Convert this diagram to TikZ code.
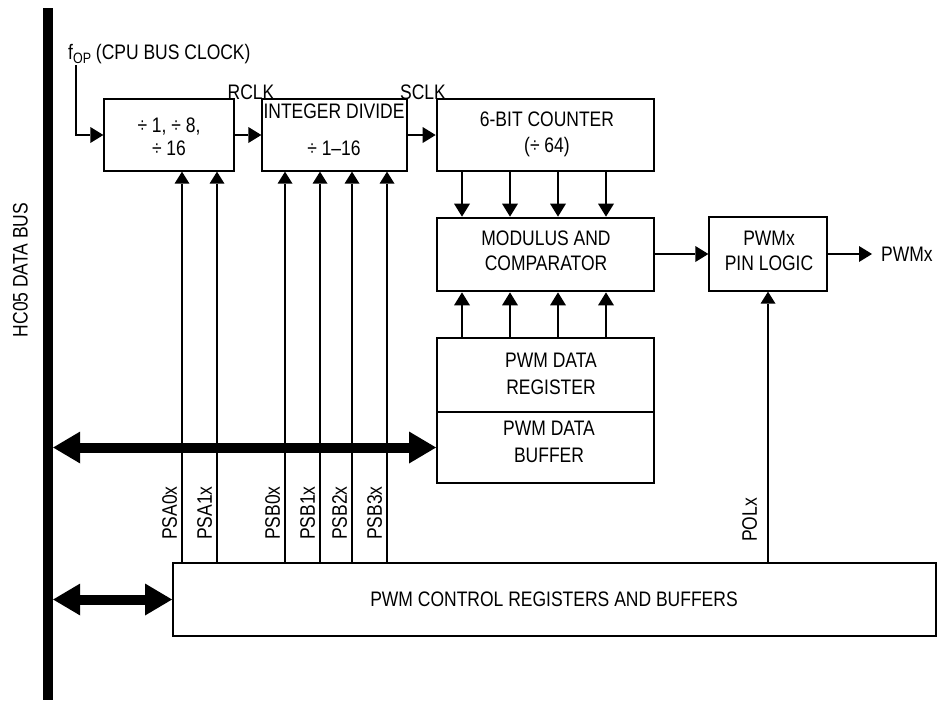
\documentclass[tikz,border=0pt]{standalone}
\usepackage{fontspec}
\setmainfont[FakeStretch=0.833]{Liberation Sans}
\usetikzlibrary{arrows.meta}
\begin{document}
\begin{tikzpicture}[x=1pt,y=-1pt,
  every node/.style={font=\fontsize{21}{25}\selectfont},
  boxthin/.style={draw, line width=1.3pt, inner sep=0pt},
  boxmed/.style={draw, line width=2pt, inner sep=0pt},
  boxthick/.style={draw, line width=2.7pt, inner sep=0pt},
  lbl/.style={inner sep=0pt, text height=15pt, text depth=0pt},
  arr/.style={line width=1.5pt, -{Triangle[length=13pt,width=16pt,line width=0pt]}},
  sig/.style={line width=1.3pt, -{Triangle[length=12pt,width=15pt,line width=0pt]}},
  bigarr/.style={line width=10pt, {Triangle[length=27pt,width=32pt,line width=0pt]}-{Triangle[length=27pt,width=32pt,line width=0pt]}}
]
\useasboundingbox (0,0) rectangle (940,702);

% data bus
\node[fill=black, inner sep=0pt, minimum width=10pt, minimum height=692pt] (bus) at (48,354) {};
\node[lbl, rotate=90] (buslbl) at (20,270) {HC05 DATA BUS};

% boxes
\node[boxthin, minimum width=130pt, minimum height=72pt] (d1) at (169,135) {};
\node[boxthin, minimum width=145pt, minimum height=72pt] (d2) at (334.5,135) {};
\node[boxthick, minimum width=217pt, minimum height=72pt] (cnt) at (545.5,135) {};
\node[boxthick, minimum width=217pt, minimum height=73pt] (mod) at (545.5,254.5) {};
\node[boxthin, minimum width=118pt, minimum height=74pt] (pin) at (768,254) {};
\node[boxthick, minimum width=217pt, minimum height=74pt] (reg) at (545.5,375) {};
\node[boxmed, minimum width=217pt, minimum height=71pt] (buf) at (545.5,447.5) {};
\node[boxmed, minimum width=763pt, minimum height=73pt] (ctl) at (554.5,599.5) {};

% box texts
\node[lbl] (t1a) at (169,125) {÷ 1, ÷ 8,};
\node[lbl] (t1b) at (169,148) {÷ 16};
\node[lbl] (t2a) at (334,111) {INTEGER DIVIDE};
\node[lbl] (t2b) at (334,148) {÷ 1–16};
\node[lbl] (t3a) at (547,119) {6-BIT COUNTER};
\node[lbl] (t3b) at (547,145) {(÷ 64)};
\node[lbl] (t4a) at (546,238) {MODULUS AND};
\node[lbl] (t4b) at (546,263) {COMPARATOR};
\node[lbl] (t5a) at (769,238) {PWMx};
\node[lbl] (t5b) at (769,263) {PIN LOGIC};
\node[lbl] (t6a) at (551,360) {PWM DATA};
\node[lbl] (t6b) at (551,387) {REGISTER};
\node[lbl] (t7a) at (549,428) {PWM DATA};
\node[lbl] (t7b) at (549,455) {BUFFER};
\node[lbl] (t8) at (554,599) {PWM CONTROL REGISTERS AND BUFFERS};

% clock input
\node[inner sep=0pt, anchor=base west] (fop) at (68,59.5) {f\raisebox{-3.5pt}{\fontsize{15}{15}\selectfont OP} (CPU BUS CLOCK)};
\coordinate (fopend) at (76,65);
\draw[arr] (fopend) |- (d1.west);
\node[lbl] (rclk) at (251,92) {RCLK};
\node[lbl] (sclk) at (423,92) {SCLK};
\draw[arr] (d1.east) -- (d2.west);
\draw[arr] (d2.east) -- (cnt.west);

% counter -> modulus, register -> modulus
\foreach \i/\xx in {1/462,2/510,3/558,4/606} {
  \coordinate (cx\i) at (\xx,0);
  \draw[arr] (cx\i |- cnt.south) -- (cx\i |- mod.north);
  \draw[arr] (cx\i |- reg.north) -- (cx\i |- mod.south);
}

% modulus -> pin logic -> output
\draw[arr] (mod.east |- pin.west) -- (pin.west);
\coordinate (pwmout) at (872,254);
\draw[arr] (pin.east) -- (pwmout);
\node[lbl, anchor=west] (pwmlbl) at (881,254) {PWMx};

% control lines
\foreach \n/\xx/\tgt/\txt in {pa0/182/d1/PSA0x, pa1/217/d1/PSA1x, pb0/285/d2/PSB0x, pb1/320/d2/PSB1x, pb2/352/d2/PSB2x, pb3/387/d2/PSB3x} {
  \coordinate (\n) at (\xx,0);
  \draw[sig] (\n |- ctl.north) -- (\n |- \tgt.south);
  \node[lbl, rotate=90, anchor=south west] (l\n) at (\xx-5,540) {\txt};
}
\draw[sig] (pin.south |- ctl.north) -- (pin.south);
\node[lbl, rotate=90, anchor=south west] (lpol) at (757,542) {POLx};

% bus arrows
\draw[bigarr] (bus.east |- buf.west) -- (buf.west);
\draw[bigarr] (bus.east |- ctl.west) -- (ctl.west);
\end{tikzpicture}
\end{document}
